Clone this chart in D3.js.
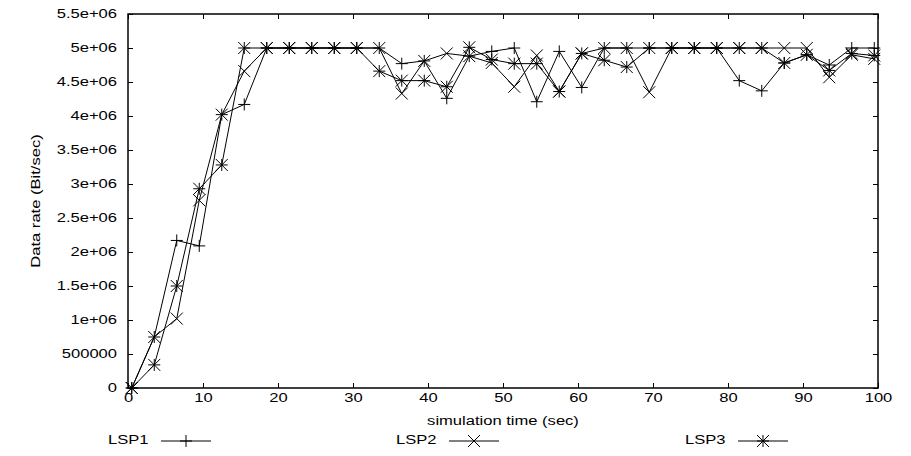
<!DOCTYPE html>
<html>
<head>
<meta charset="utf-8">
<script src="https://cdn.jsdelivr.net/npm/d3@7"></script>
<style>
  html, body { margin: 0; padding: 0; background: #fff; }
  svg { display: block; }
  text { font-family: "Liberation Sans", Arial, sans-serif; fill: #000; }
</style>
</head>
<body>
<svg id="chart" width="911" height="456"></svg>
<script>
// ---- data ----
const times = [0.5, 3.5, 6.5, 9.5, 12.5, 15.5, 18.5, 21.5, 24.5, 27.5, 30.5,
  33.5, 36.5, 39.5, 42.5, 45.5, 48.5, 51.5, 54.5, 57.5, 60.5,
  63.5, 66.5, 69.5, 72.5, 75.5, 78.5, 81.5, 84.5, 87.5, 90.5, 93.5, 96.5, 99.5];

const lsp1 = [0, 750000, 2170000, 2090000, 4020000, 4170000, 5000000, 5000000, 5000000, 5000000, 5000000,
  5000000, 4770000, 4810000, 4260000, 4880000, 4950000, 5000000, 4210000, 4950000, 4420000,
  5000000, 5000000, 5000000, 5000000, 5000000, 5000000, 4520000, 4370000, 4780000, 4900000, 4750000, 5000000, 5000000];

const lsp2 = [0, 750000, 1020000, 2760000, 4020000, 4660000, 5000000, 5000000, 5000000, 5000000, 5000000,
  5000000, 4330000, 4810000, 4920000, 4880000, 4780000, 4430000, 4890000, 4360000, 4920000,
  5000000, 5000000, 4350000, 5000000, 5000000, 5000000, 5000000, 5000000, 5000000, 5000000, 4570000, 4900000, 4840000];

const lsp3 = [0, 340000, 1500000, 2930000, 3280000, 5000000, 5000000, 5000000, 5000000, 5000000, 5000000,
  4660000, 4520000, 4520000, 4430000, 5010000, 4830000, 4770000, 4770000, 4360000, 4920000,
  4820000, 4720000, 5000000, 5000000, 5000000, 5000000, 5000000, 5000000, 4780000, 4900000, 4670000, 4920000, 4890000];

const seriesNames = ["LSP1", "LSP2", "LSP3"];
const seriesMarkers = ["plus", "cross", "star"];
const xTicks = [0, 10, 20, 30, 40, 50, 60, 70, 80, 90, 100];
const yTicks = [0, 500000, 1000000, 1500000, 2000000, 2500000, 3000000, 3500000, 4000000, 4500000, 5000000, 5500000];
const yTickLabels = ["0", "500000", "1e+06", "1.5e+06", "2e+06", "2.5e+06", "3e+06", "3.5e+06", "4e+06", "4.5e+06", "5e+06", "5.5e+06"];
const xTitle = "simulation time (sec)";
const yTitle = "Data rate (Bit/sec)";

// ---- layout ----
const svg = d3.select("#chart");
const L = 128, R = 878, T = 14, B = 388;
const x = d3.scaleLinear().domain([0, 100]).range([L, R]);
const y = d3.scaleLinear().domain([0, 5500000]).range([B, T]);
const fs = 12;
const sx = 1.38; // horizontal stretch of the glyphs

// ticks (inward, mirrored)
const tk = 5;
const bottomAxis = d3.axisBottom(x).tickValues(xTicks).tickSizeInner(-tk).tickSizeOuter(0).tickPadding(5);
const gx = svg.append("g").attr("transform", `translate(0,${B})`).call(bottomAxis);
const topAxis = d3.axisTop(x).tickValues(xTicks).tickSizeInner(-tk).tickSizeOuter(0).tickFormat("");
const gxt = svg.append("g").attr("transform", `translate(0,${T})`).call(topAxis);
const leftAxis = d3.axisLeft(y).tickValues(yTicks).tickSizeInner(-tk).tickSizeOuter(0).tickPadding(11)
  .tickFormat((d, i) => yTickLabels[i]);
const gy = svg.append("g").attr("transform", `translate(${L},0)`).call(leftAxis);
const rightAxis = d3.axisRight(y).tickValues(yTicks).tickSizeInner(-tk).tickSizeOuter(0).tickFormat("");
const gyr = svg.append("g").attr("transform", `translate(${R},0)`).call(rightAxis);

[gx, gxt, gy, gyr].forEach(g => {
  g.select(".domain").remove();
  g.selectAll(".tick line").attr("stroke", "#000").attr("stroke-width", 1);
  g.selectAll("text").style("font-family", '"Liberation Sans", Arial, sans-serif')
    .style("font-size", fs + "px").attr("fill", "#000")
    .each(function () {
      const t = d3.select(this);
      const x0 = +t.attr("x") || 0;
      t.attr("x", 0).attr("transform", `translate(${x0},0) scale(${sx},1)`);
    });
});

// frame
svg.append("rect").attr("x", L).attr("y", T).attr("width", R - L).attr("height", B - T)
  .attr("fill", "none").attr("stroke", "#000").attr("stroke-width", 1.5);

// titles
svg.append("text").attr("transform", `translate(${(L + R) / 2},425) scale(${sx},1)`)
  .attr("text-anchor", "middle").style("font-size", fs + "px").text(xTitle);
svg.append("text").attr("transform", `translate(40,${(T + B) / 2}) rotate(-90) scale(${sx},1)`)
  .attr("text-anchor", "middle").style("font-size", fs + "px").text(yTitle);

// markers
const ms = 6;
function marker(g, kind, cx, cy) {
  const p = d3.path();
  if (kind === "plus" || kind === "star") {
    p.moveTo(cx - ms, cy); p.lineTo(cx + ms, cy);
    p.moveTo(cx, cy - ms); p.lineTo(cx, cy + ms);
  }
  if (kind === "cross" || kind === "star") {
    p.moveTo(cx - ms, cy - ms); p.lineTo(cx + ms, cy + ms);
    p.moveTo(cx - ms, cy + ms); p.lineTo(cx + ms, cy - ms);
  }
  g.append("path").attr("d", p.toString()).attr("stroke", "#000").attr("stroke-width", 1).attr("fill", "none");
}

const allSeries = [lsp1, lsp2, lsp3];
const line = d3.line().x(d => x(d[0])).y(d => y(d[1]));
allSeries.forEach((vals, si) => {
  const pts = times.map((t, i) => [t, vals[i]]);
  const g = svg.append("g");
  g.append("path").attr("d", line(pts)).attr("fill", "none").attr("stroke", "#000").attr("stroke-width", 1);
  pts.forEach(p => marker(g, seriesMarkers[si], x(p[0]), y(p[1])));
});

// legend
const legendX = [108, 396, 685];
const legendY = 441;
seriesNames.forEach((name, i) => {
  const g = svg.append("g");
  const lx = legendX[i];
  g.append("text").attr("transform", `translate(${lx},${legendY}) scale(${sx},1)`)
    .attr("dominant-baseline", "middle")
    .style("font-size", fs + "px").text(name);
  const x0 = lx + 53, x1 = lx + 103;
  g.append("line").attr("x1", x0).attr("x2", x1).attr("y1", legendY).attr("y2", legendY)
    .attr("stroke", "#000").attr("stroke-width", 1);
  marker(g, seriesMarkers[i], (x0 + x1) / 2, legendY);
});
</script>
</body>
</html>
